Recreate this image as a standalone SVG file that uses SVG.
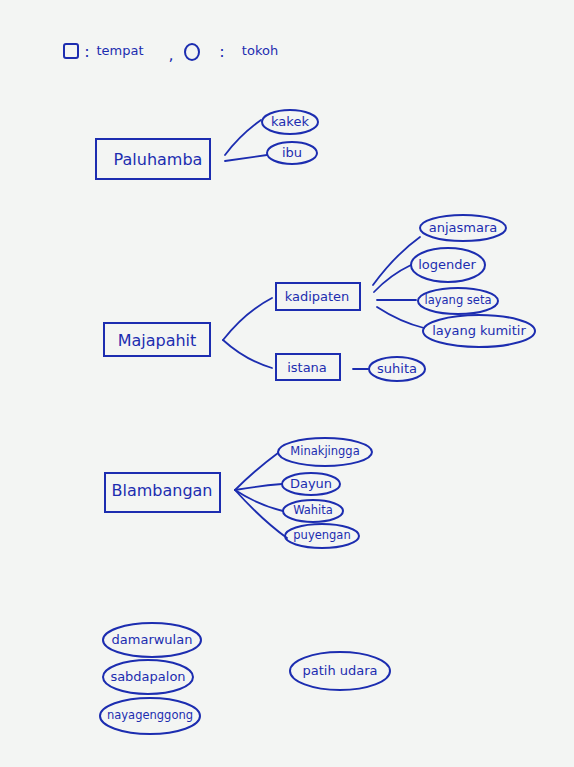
<svg xmlns="http://www.w3.org/2000/svg" width="574" height="767" viewBox="0 0 574 767">
<style>
.bg{fill:#f3f5f3}
.n{fill:none;stroke:#1c2db0;stroke-width:2}
.c{fill:none;stroke:#1c2db0;stroke-width:1.8;stroke-linecap:round}
.t{font-family:"DejaVu Sans",sans-serif;fill:#1c2db0;text-anchor:middle;dominant-baseline:central}
.l{font-size:16px}
.s{font-size:13px}
.x{font-size:11.5px}
</style>
<rect class="bg" x="0" y="0" width="574" height="767"/>
<g id="legend">
<rect class="n" x="64" y="44" width="14" height="14" rx="2"/>
<text class="t l" x="87" y="51">:</text>
<text class="t s" x="120" y="50">tempat</text>
<text class="t l" x="171" y="54">,</text>
<ellipse class="n" cx="192" cy="52" rx="7" ry="8"/>
<text class="t l" x="222" y="51">:</text>
<text class="t s" x="260" y="50">tokoh</text>
</g>
<g id="paluhamba"><rect class="n" x="96" y="139" width="114" height="40"/><text class="t l" x="158" y="159">Paluhamba</text></g>
<g id="kakek"><ellipse class="n" cx="290" cy="122" rx="28" ry="12"/><text class="t s" x="290" y="121">kakek</text></g>
<g id="ibu"><ellipse class="n" cx="292" cy="153" rx="25" ry="11"/><text class="t s" x="292" y="152">ibu</text></g>
<g id="majapahit"><rect class="n" x="104" y="323" width="106" height="33"/><text class="t l" x="157" y="340">Majapahit</text></g>
<g id="kadipaten"><rect class="n" x="276" y="283" width="84" height="27"/><text class="t s" x="317" y="296">kadipaten</text></g>
<g id="istana"><rect class="n" x="276" y="354" width="64" height="26"/><text class="t s" x="307" y="367">istana</text></g>
<g id="suhita"><ellipse class="n" cx="397" cy="369" rx="28" ry="12"/><text class="t s" x="397" y="368">suhita</text></g>
<g id="anjasmara"><ellipse class="n" cx="463" cy="228" rx="43" ry="13"/><text class="t s" x="463" y="227">anjasmara</text></g>
<g id="logender"><ellipse class="n" cx="448" cy="265" rx="37" ry="17"/><text class="t s" x="447" y="264">logender</text></g>
<g id="layang-seta"><ellipse class="n" cx="458" cy="301" rx="40" ry="13"/><text class="t x" x="458" y="300">layang seta</text></g>
<g id="layang-kumitir"><ellipse class="n" cx="479" cy="331" rx="56" ry="16"/><text class="t s" x="479" y="330">layang kumitir</text></g>
<g id="blambangan"><rect class="n" x="105" y="473" width="115" height="39"/><text class="t l" x="162" y="490">Blambangan</text></g>
<g id="minakjingga"><ellipse class="n" cx="325" cy="452" rx="47" ry="14"/><text class="t x" x="325" y="451">Minakjingga</text></g>
<g id="dayun"><ellipse class="n" cx="311" cy="484" rx="29" ry="11"/><text class="t s" x="311" y="483">Dayun</text></g>
<g id="wahita"><ellipse class="n" cx="313" cy="511" rx="30" ry="11"/><text class="t x" x="313" y="510">Wahita</text></g>
<g id="puyengan"><ellipse class="n" cx="322" cy="536" rx="37" ry="12"/><text class="t x" x="322" y="535">puyengan</text></g>
<g id="damarwulan"><ellipse class="n" cx="152" cy="640" rx="49" ry="17"/><text class="t s" x="152" y="639">damarwulan</text></g>
<g id="sabdapalon"><ellipse class="n" cx="148" cy="677" rx="45" ry="17"/><text class="t s" x="148" y="676">sabdapalon</text></g>
<g id="nayagenggong"><ellipse class="n" cx="150" cy="716" rx="50" ry="18"/><text class="t x" x="150" y="715">nayagenggong</text></g>
<g id="patih-udara"><ellipse class="n" cx="340" cy="671" rx="50" ry="19"/><text class="t s" x="340" y="670">patih udara</text></g>
<g id="connectors">
<path class="c" d="M225 155 Q240 135 261 120"/>
<path class="c" d="M225 161 L267 155"/>
<path class="c" d="M223 340 Q245 312 272 298"/>
<path class="c" d="M223 340 Q245 360 272 368"/>
<path class="c" d="M353 369 L368 369"/>
<path class="c" d="M373 285 Q395 255 420 237"/>
<path class="c" d="M374 292 Q390 275 411 265"/>
<path class="c" d="M377 300 L416 300"/>
<path class="c" d="M377 307 Q400 322 424 328"/>
<path class="c" d="M235 490 Q255 470 278 453"/>
<path class="c" d="M235 490 Q258 486 282 484"/>
<path class="c" d="M235 490 Q258 505 283 511"/>
<path class="c" d="M235 490 Q262 520 287 538"/>
</g>
</svg>
